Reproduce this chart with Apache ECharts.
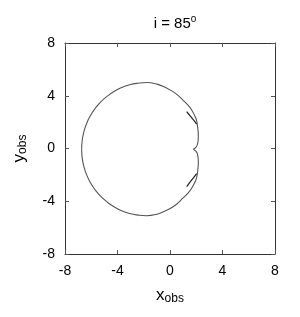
<!DOCTYPE html>
<html>
<head>
<meta charset="utf-8">
<script src="https://cdn.jsdelivr.net/npm/echarts@6/dist/echarts.min.js"></script>
<style>html,body{margin:0;padding:0;background:#fff}#c{width:300px;height:317px}</style>
</head>
<body>
<div id="c"></div>
<script>
// Upper half of the main curve: from the central cusp, over the top, to the leftmost point
const upperX = [1.78, 2.08, 2.16, 2.12, 2.05, 1.95, 1.65, 1.35, 1.0, 0.4, -0.3, -1.0, -1.8, -2.44, -3.08, -3.69, -4.27, -4.8, -5.29, -5.71, -6.07, -6.36, -6.56, -6.69, -6.73];
const upperY = [-0.05, 0.28, 0.9, 1.5, 2.0, 2.35, 2.92, 3.3, 3.65, 4.2, 4.6, 4.88, 5.0, 4.95, 4.83, 4.62, 4.32, 3.95, 3.52, 3.03, 2.48, 1.88, 1.26, 0.61, -0.05];
// Lower half: from the central cusp, under the bottom, to the leftmost point
const lowerX = [1.78, 2.08, 2.16, 2.12, 2.05, 1.95, 1.65, 1.35, 1.0, 0.4, -0.3, -1.0, -1.8, -2.44, -3.08, -3.69, -4.27, -4.8, -5.29, -5.71, -6.07, -6.36, -6.56, -6.69, -6.73];
const lowerY = [-0.05, -0.38, -1.0, -1.6, -2.1, -2.45, -3.02, -3.4, -3.75, -4.3, -4.7, -4.98, -5.1, -5.05, -4.93, -4.72, -4.42, -4.05, -3.62, -3.13, -2.58, -1.98, -1.36, -0.71, -0.05];
// Small hooks near the cusp
const hookUpX = [1.27, 1.55, 1.8, 2.03];
const hookUpY = [2.79, 2.45, 2.15, 1.85];
const hookLoX = [1.27, 1.55, 1.8, 2.03];
const hookLoY = [-2.89, -2.52, -2.2, -1.9];

const zip = (a, b) => a.map((v, i) => [v, b[i]]);
const font = 'Liberation Sans, Arial, Helvetica, sans-serif';
const frame = { lineStyle: { color: '#333', width: 1 } };

const chart = echarts.init(document.getElementById('c'), null, { renderer: 'canvas' });
const axisCommon = {
  type: 'value', min: -8, max: 8, interval: 4,
  splitLine: { show: false },
  axisLine: { show: true, onZero: false, ...frame },
  axisTick: { show: true, inside: true, length: 4, lineStyle: { color: '#555' } }
};
chart.setOption({
  animation: false,
  title: {
    text: 'i = 85{sup|o}',
    left: 170, top: 9, textAlign: 'center',
    textStyle: {
      fontFamily: font, fontSize: 15, fontWeight: 'normal', color: '#000',
      rich: { sup: { fontFamily: font, fontSize: 10, color: '#000', padding: [0, 0, 10, 0] } }
    }
  },
  grid: { left: 65, right: 25, top: 43, bottom: 63 },
  xAxis: [
    { ...axisCommon, position: 'bottom',
      axisLabel: { fontFamily: font, fontSize: 14, color: '#000', margin: 10, formatter: v => String(v) },
      name: '{m|x}{s|obs}', nameLocation: 'middle', nameGap: 31,
      nameTextStyle: { rich: { m: { fontFamily: font, fontSize: 17, color: '#000' }, s: { fontFamily: font, fontSize: 12, color: '#000', padding: [8, 0, 0, 0] } } } },
    { ...axisCommon, position: 'top', axisLabel: { show: false } }
  ],
  yAxis: [
    { ...axisCommon, position: 'left',
      axisLabel: { fontFamily: font, fontSize: 14, color: '#000', margin: 10, formatter: v => String(v) },
      name: '{m|y}{s|obs}', nameLocation: 'middle', nameGap: 36, nameRotate: 90,
      nameTextStyle: { rich: { m: { fontFamily: font, fontSize: 17, color: '#000' }, s: { fontFamily: font, fontSize: 12, color: '#000', padding: [8, 0, 0, 0] } } } },
    { ...axisCommon, position: 'right', axisLabel: { show: false } }
  ],
  series: [
    { type: 'line', data: zip(upperX, upperY), showSymbol: false, smooth: 0.5, lineStyle: { color: '#555', width: 1.1 } },
    { type: 'line', data: zip(lowerX, lowerY), showSymbol: false, smooth: 0.5, lineStyle: { color: '#555', width: 1.1 } },
    { type: 'line', data: zip(hookUpX, hookUpY), showSymbol: false, smooth: 0.3, lineStyle: { color: '#222', width: 1.2 } },
    { type: 'line', data: zip(hookLoX, hookLoY), showSymbol: false, smooth: 0.3, lineStyle: { color: '#222', width: 1.2 } }
  ]
});
</script>
</body>
</html>
